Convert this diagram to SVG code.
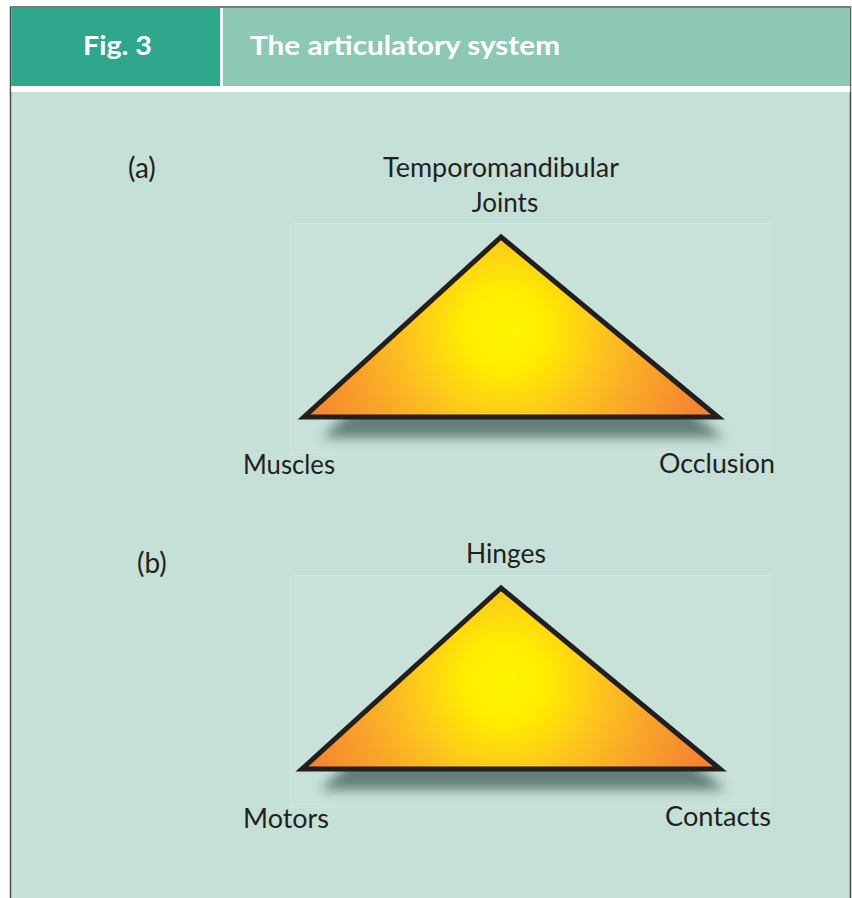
<svg xmlns="http://www.w3.org/2000/svg" width="852" height="898" viewBox="0 0 852 898">
  <defs>
    <radialGradient id="fillGrad" gradientUnits="userSpaceOnUse" cx="505" cy="330" r="205">
      <stop offset="0" stop-color="#fff500"/>
      <stop offset="0.2" stop-color="#ffed00"/>
      <stop offset="0.45" stop-color="#fdc71c"/>
      <stop offset="0.72" stop-color="#f9a42a"/>
      <stop offset="1" stop-color="#f5862f"/>
    </radialGradient>
    <filter id="shadow" x="-20%" y="-20%" width="140%" height="160%">
      <feGaussianBlur stdDeviation="6"/>
    </filter>
    <style>
      .lbl { font-family: Lato, "Open Sans", "Liberation Sans", sans-serif; font-size: 26px; fill: #231f20; }
      .par { font-family: Lato, "Open Sans", "Liberation Sans", sans-serif; font-size: 28px; fill: #231f20; }
      .hdr { font-family: Lato, "Open Sans", "Liberation Sans", sans-serif; font-size: 27px; font-weight: bold; fill: #ffffff; }
      .faint { fill: #c8e2da; stroke: #cde6de; stroke-width: 1; }
      .tri { fill: url(#fillGrad); stroke: #231f20; stroke-width: 5; stroke-linejoin: miter; }
      .shd { fill: #3f5e58; opacity: 0.75; filter: url(#shadow); }
    </style>
  </defs>

  <!-- page -->
  <rect x="0" y="0" width="852" height="898" fill="#ffffff"/>
  <rect x="10.5" y="7" width="840" height="900" fill="#c5e0d7" stroke="#4d4d4d" stroke-width="1.5"/>
  <rect x="11" y="6" width="840" height="2" fill="#7a7a7a"/>

  <!-- header -->
  <g id="header">
    <rect x="11.3" y="8" width="209" height="78" fill="#2ea78c"/>
    <rect x="220.3" y="8" width="2.7" height="78" fill="#ffffff"/>
    <rect x="223" y="8" width="627.2" height="78" fill="#8dc8b5"/>
    <rect x="11.3" y="86" width="838.9" height="6" fill="#ffffff"/>
    <text class="hdr" x="83" y="55" textLength="69" lengthAdjust="spacingAndGlyphs">Fig. 3</text>
    <text class="hdr" x="250" y="55" textLength="310" lengthAdjust="spacingAndGlyphs">The articulatory system</text>
  </g>

  <!-- (a) -->
  <g id="panel-a">
    <text class="par" x="128" y="178">(a)</text>
    <g id="triangle-a">
      <rect class="faint" x="290.5" y="223.5" width="480" height="232"/>
      <path class="shd" d="M505 262 L724 438 L322 438 Z"/>
      <path class="tri" d="M501 237 L718 417 L304 417 Z"/>
    </g>
    <g id="node-tmj">
      <text class="lbl" x="501" y="177" text-anchor="middle" textLength="236" lengthAdjust="spacingAndGlyphs">Temporomandibular</text>
      <text class="lbl" x="505" y="212" text-anchor="middle">Joints</text>
    </g>
    <g id="node-muscles">
      <text class="lbl" x="243" y="474" textLength="92" lengthAdjust="spacingAndGlyphs">Muscles</text>
    </g>
    <g id="node-occlusion">
      <text class="lbl" x="659" y="473" textLength="116" lengthAdjust="spacingAndGlyphs">Occlusion</text>
    </g>
  </g>

  <!-- (b) -->
  <g id="panel-b">
    <text class="par" x="137" y="573">(b)</text>
    <g id="triangle-b" transform="translate(0,352)">
      <rect class="faint" x="290.5" y="223.5" width="480" height="232"/>
      <path class="shd" d="M505 262 L726 438 L320 438 Z"/>
      <path class="tri" d="M501 236 L720 417 L302 417 Z"/>
    </g>
    <g id="node-hinges">
      <text class="lbl" x="506" y="563" text-anchor="middle" textLength="80" lengthAdjust="spacingAndGlyphs">Hinges</text>
    </g>
    <g id="node-motors">
      <text class="lbl" x="243" y="828" textLength="86" lengthAdjust="spacingAndGlyphs">Motors</text>
    </g>
    <g id="node-contacts">
      <text class="lbl" x="665" y="826" textLength="106" lengthAdjust="spacingAndGlyphs">Contacts</text>
    </g>
  </g>
</svg>
